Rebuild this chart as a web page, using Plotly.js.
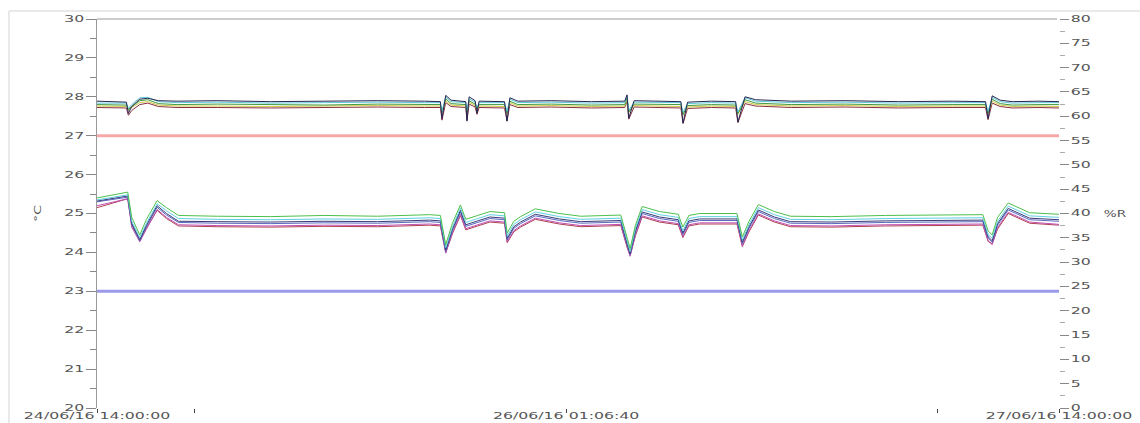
<!DOCTYPE html>
<html>
<head>
<meta charset="utf-8">
<script src="https://cdn.plot.ly/plotly-3.0.1.min.js"></script>
<style>
html,body{margin:0;padding:0;background:#fff;}
#chart{width:1140px;height:423px;}
</style>
</head>
<body>
<div id="chart"></div>
<script>
// ---- time axis (hours since 24/06/16 14:00:00) ----
const tickHours = [0, 7.333, 35.111, 62.889, 72];
const tickLabels = ['24/06/16 14:00:00', '', '26/06/16 01:06:40', '', '27/06/16 14:00:00'];

// ---- humidity group (%R, right axis) ----
const tRH = [0,1.5,2.2,2.35,2.6,3.2,3.8,4.6,6.0, 9,13,17,21,24.5, 25.7,25.82,26.1,26.5, 27.6,27.69,27.85,28.3,28.44,28.6, 30.5,30.69,30.9,31.5, 34,37,39.5,39.67,39.8,40.2, 42,43.7,43.86,44.2, 46,47.8,47.97,48.5,49.3, 52,56,60,64, 66.5,66.69,67.0,67.6,68.5,70.5,72];
const rhNavy = [63.1,63.0,62.9,60.6,62.0,63.5,63.7,63.2,63.1, 63.2,63.0,63.1,63.2,63.1, 63.0,59.5,64.3,63.3, 63.0,59.0,64.0,63.2,60.6,63.1, 63.0,59.0,63.8,63.1, 63.2,63.0,63.1,64.4,59.6,63.2, 63.1,63.0,58.6,62.9, 63.1,63.0,58.8,64.0,63.4, 63.1,63.2,63.0,63.1, 63.0,59.5,64.2,63.3,63.0,63.1,63.0];
const rhCyan = [62.7,62.8,62.7,61.6,62.4,63.8,63.9,63.0,62.8, 62.9,62.7,62.8,62.9,62.8, 62.8,61.0,64.0,63.0, 62.8,61.2,63.6,62.9,61.8,62.8, 62.8,61.0,63.5,62.8, 62.9,62.7,62.8,64.2,61.2,62.9, 62.8,62.8,60.8,62.6, 62.8,62.7,60.9,63.8,63.1, 62.8,62.9,62.7,62.8, 62.8,61.0,63.9,63.0,62.7,62.8,62.8];
const rhGreen = [62.4,62.4,62.3,61.4,62.0,63.2,63.4,62.6,62.4, 62.5,62.4,62.3,62.5,62.4, 62.4,60.8,63.6,62.6, 62.4,60.9,63.2,62.5,61.5,62.4, 62.4,60.7,63.1,62.4, 62.5,62.3,62.4,63.8,60.9,62.5, 62.4,62.4,60.4,62.2, 62.4,62.3,60.6,63.4,62.7, 62.4,62.5,62.3,62.4, 62.4,60.7,63.5,62.6,62.3,62.4,62.4];
const rhYellow = [62.1,62.0,62.0,61.2,61.8,62.8,63.0,62.3,62.1, 62.1,62.0,62.1,62.2,62.1, 62.1,60.6,63.2,62.3, 62.1,60.7,62.9,62.2,61.3,62.1, 62.0,60.5,62.8,62.1, 62.2,62.0,62.1,63.4,60.7,62.2, 62.1,62.0,60.2,61.9, 62.1,62.0,60.4,63.0,62.4, 62.1,62.2,62.0,62.1, 62.1,60.5,63.1,62.3,62.0,62.1,62.0];
const rhMaroon = [61.8,61.7,61.7,60.2,61.2,62.4,62.7,62.0,61.8, 61.8,61.7,61.8,61.9,61.8, 61.8,59.2,62.8,62.0, 61.8,59.2,62.5,61.9,60.4,61.8, 61.7,59.0,62.4,61.8, 61.9,61.7,61.8,63.0,59.4,61.9, 61.8,61.7,58.5,61.6, 61.8,61.7,58.7,62.6,62.1, 61.8,61.9,61.7,61.8, 61.8,59.3,62.7,62.0,61.7,61.8,61.7];

// ---- temperature group (°C, left axis) ----
const tT = [0,2.3,2.6,3.2,3.7,4.5,5.2,6.1, 9,13,17,21,24.9, 25.7,26.1,26.6,27.2,27.6, 28.5,29.4,30.5,30.7,31.2,31.7, 32.8,34.6,36.2,38,39.2, 39.7,39.9,40.3,40.8,42.1, 43.5,43.85,44.3,45.1, 47.9,48.3,48.8,49.5,50.7,51.9, 55,59,63, 66.3,66.7,67.0,67.4,68.2,69.8,72];
const tGreen = [25.40,25.55,24.9,24.45,24.85,25.33,25.15,24.95, 24.93,24.92,24.95,24.93,24.97, 24.95,24.2,24.75,25.22,24.85, 24.95,25.05,25.02,24.5,24.8,24.92, 25.12,25.0,24.93,24.95,24.96, 24.35,24.1,24.7,25.18,25.05, 24.98,24.65,24.95,25.0, 25.0,24.4,24.8,25.23,25.05,24.93, 24.92,24.95,24.96, 24.97,24.55,24.45,24.9,25.27,25.02,24.98];
const tCyan = [25.35,25.48,24.8,24.38,24.75,25.25,25.07,24.87, 24.85,24.84,24.86,24.85,24.89, 24.87,24.12,24.65,25.14,24.77, 24.87,24.97,24.94,24.42,24.72,24.84, 25.04,24.92,24.85,24.86,24.88, 24.27,24.02,24.62,25.1,24.97, 24.9,24.55,24.87,24.92, 24.92,24.32,24.72,25.15,24.97,24.85, 24.84,24.87,24.88, 24.89,24.45,24.37,24.8,25.19,24.94,24.9];
const tNavy = [25.32,25.45,24.75,24.33,24.7,25.2,25.0,24.8, 24.79,24.78,24.8,24.79,24.83, 24.81,24.06,24.6,25.08,24.71, 24.81,24.91,24.88,24.36,24.66,24.78, 24.98,24.86,24.79,24.8,24.82, 24.2,23.97,24.56,25.04,24.91, 24.84,24.5,24.81,24.86, 24.86,24.26,24.66,25.09,24.91,24.79, 24.78,24.81,24.82, 24.83,24.4,24.3,24.74,25.13,24.88,24.84];
const tBlue = [25.3,25.42,24.72,24.3,24.66,25.16,24.96,24.77, 24.75,24.74,24.76,24.75,24.79, 24.77,24.02,24.56,25.04,24.67, 24.77,24.87,24.84,24.32,24.62,24.74, 24.94,24.82,24.75,24.76,24.78, 24.17,23.94,24.52,25.0,24.87, 24.8,24.46,24.77,24.82, 24.82,24.22,24.62,25.05,24.87,24.75, 24.74,24.77,24.78, 24.79,24.36,24.26,24.7,25.09,24.84,24.8];
const tMagenta = [25.2,25.38,24.65,24.27,24.6,25.1,24.9,24.71, 24.69,24.68,24.7,24.69,24.73, 24.71,23.98,24.5,24.98,24.61, 24.71,24.81,24.78,24.27,24.56,24.68, 24.88,24.76,24.69,24.7,24.72, 24.12,23.9,24.46,24.94,24.81, 24.74,24.41,24.71,24.76, 24.76,24.17,24.56,24.99,24.81,24.69, 24.68,24.71,24.72, 24.73,24.3,24.2,24.64,25.03,24.78,24.72];
const tRed = [25.15,25.38,24.7,24.3,24.62,25.08,24.87,24.68, 24.66,24.65,24.67,24.66,24.7, 24.68,24.0,24.48,24.95,24.58, 24.68,24.78,24.75,24.25,24.53,24.65, 24.85,24.73,24.66,24.67,24.69, 24.1,23.92,24.43,24.91,24.78, 24.71,24.38,24.68,24.73, 24.73,24.15,24.53,24.96,24.78,24.66, 24.65,24.68,24.69, 24.7,24.28,24.22,24.6,25.0,24.75,24.7];

// ---- limits (°C) ----
const limitHigh = 27;
const limitLow = 23;
const limitSpan = [0, 72];

const font = {family: 'DejaVu Sans, Verdana, sans-serif', size: 8.5, color: '#555'};

function line(x, y, color, axis) {
  return {x: x, y: y, type: 'scatter', mode: 'lines', yaxis: axis,
          line: {color: color, width: 1}, hoverinfo: 'skip', showlegend: false};
}

const traces = [
  {x: limitSpan, y: [limitHigh, limitHigh], type: 'scatter', mode: 'lines', line: {color: '#f6a8a8', width: 3}, showlegend: false, hoverinfo: 'skip'},
  {x: limitSpan, y: [limitLow, limitLow], type: 'scatter', mode: 'lines', line: {color: '#9a9ae8', width: 3}, showlegend: false, hoverinfo: 'skip'},
  line(tRH, rhMaroon, '#8a3040', 'y2'),
  line(tRH, rhYellow, '#cfc84a', 'y2'),
  line(tRH, rhGreen, '#3f9a3f', 'y2'),
  line(tRH, rhCyan, '#5cc8d8', 'y2'),
  line(tRH, rhNavy, '#262652', 'y2'),
  line(tT, tRed, '#b04050', 'y'),
  line(tT, tMagenta, '#c050b0', 'y'),
  line(tT, tBlue, '#5a6ac0', 'y'),
  line(tT, tNavy, '#3a3a78', 'y'),
  line(tT, tCyan, '#60d0e0', 'y'),
  line(tT, tGreen, '#4cc04c', 'y')
];

const layout = {
  width: 1140, height: 423,
  margin: {l: 97, r: 81, t: 19, b: 15, pad: 0},
  paper_bgcolor: '#fff', plot_bgcolor: '#fff',
  font: font,
  showlegend: false,
  xaxis: {
    range: [0, 72], showgrid: false, zeroline: false, showline: false,
    tickmode: 'array', tickvals: tickHours, ticktext: tickLabels,
    ticks: 'outside', ticklen: 4, tickcolor: '#444', tickwidth: 1,
    ticklabelstandoff: -4,
    tickfont: font, tickangle: 0
  },
  yaxis: {
    range: [20, 30], dtick: 1, tick0: 20, showgrid: false, zeroline: false,
    showline: true, linecolor: '#999', linewidth: 1,
    ticks: 'outside', ticklen: 10, tickcolor: '#888', tickwidth: 1,
    minor: {dtick: 0.5, ticks: 'outside', ticklen: 6, tickcolor: '#888', showgrid: false},
    tickfont: font
  },
  yaxis2: {
    range: [0, 80], dtick: 5, tick0: 0, overlaying: 'y', side: 'right',
    showgrid: false, zeroline: false, showline: false,
    ticks: 'outside', ticklen: 9, tickcolor: '#888', tickwidth: 1,
    minor: {dtick: 2.5, ticks: 'outside', ticklen: 5, tickcolor: '#aaa', showgrid: false},
    tickfont: font
  },
  shapes: [
    {type: 'line', xref: 'paper', yref: 'paper', x0: 0, x1: 0.998, y0: 1, y1: 1, line: {color: '#999', width: 1}},
    {type: 'line', xref: 'paper', yref: 'paper', x0: -0.0915, x1: 1.09, y0: 1.0206, y1: 1.0206, line: {color: '#d4d4d4', width: 1}},
    {type: 'line', xref: 'paper', yref: 'paper', x0: -0.0915, x1: -0.0915, y0: -0.04, y1: 1.0206, line: {color: '#d4d4d4', width: 1}}
  ],
  annotations: [
    {text: '°C', xref: 'paper', yref: 'paper', x: -0.062, y: 0.5, showarrow: false,
     textangle: -90, xanchor: 'center', yanchor: 'middle', font: {family: font.family, size: 9, color: '#555'}},
    {text: '%R', xref: 'paper', yref: 'paper', x: 1.058, y: 0.5, showarrow: false,
     xanchor: 'center', yanchor: 'middle', font: {family: font.family, size: 8.5, color: '#555'}}
  ]
};

Plotly.newPlot('chart', traces, layout, {staticPlot: true, displayModeBar: false}).then(function () {
  // reproduce the horizontally stretched lettering of the original picture
  document.querySelectorAll('g.xtick text, g.ytick text, g.y2tick text, g.annotation-text-g text').forEach(function (t) {
    const w = t.getComputedTextLength();
    if (w > 0) {
      const f = t.closest('g.annotation-text-g') ? 1.6 : 1.85;
      t.setAttribute('textLength', (w * f).toFixed(1));
      t.setAttribute('lengthAdjust', 'spacingAndGlyphs');
    }
  });
});
</script>
</body>
</html>
